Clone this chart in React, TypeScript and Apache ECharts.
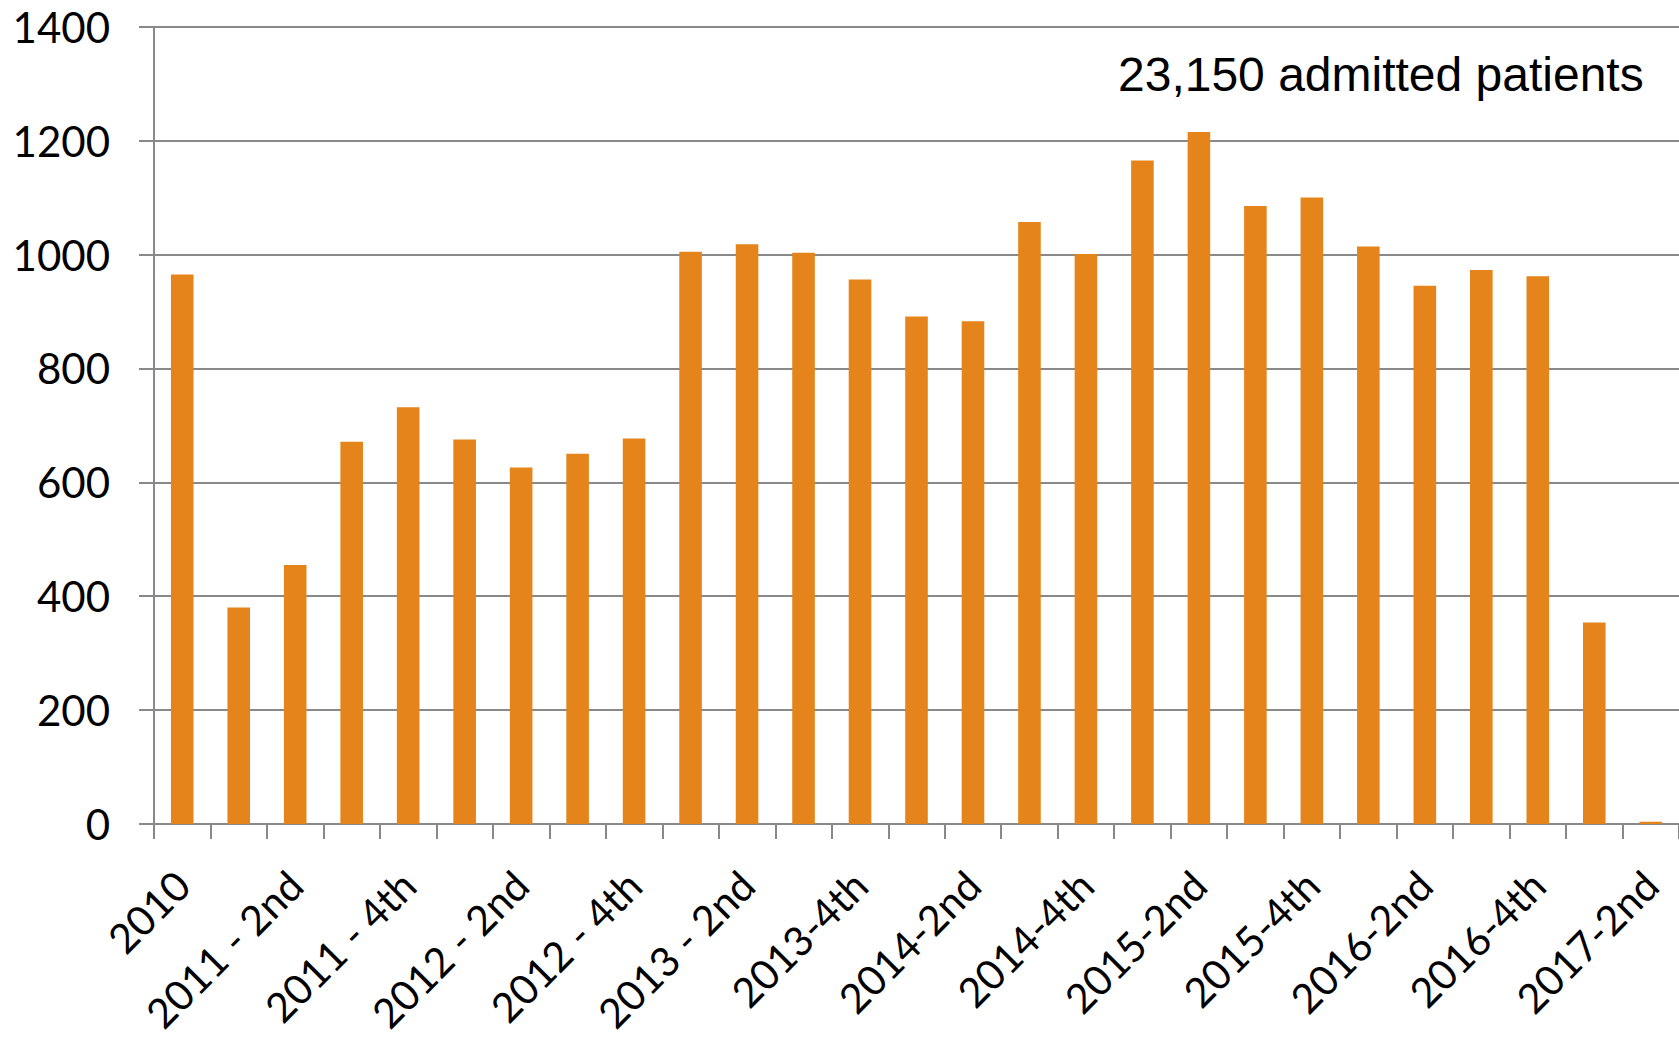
import React, { useEffect, useRef } from "react";
import * as echarts from "echarts";

const categories: string[] = [
  "2010",
  "2011 - 1st", "2011 - 2nd", "2011 - 3rd", "2011 - 4th",
  "2012 - 1st", "2012 - 2nd", "2012 - 3rd", "2012 - 4th",
  "2013 - 1st", "2013 - 2nd", "2013-3rd", "2013-4th",
  "2014-1st", "2014-2nd", "2014-3rd", "2014-4th",
  "2015-1st", "2015-2nd", "2015-3rd", "2015-4th",
  "2016-1st", "2016-2nd", "2016-3rd", "2016-4th",
  "2017-1st", "2017-2nd",
];

const admitted: number[] = [
  965,
  380, 455, 671, 732,
  675, 626, 650, 677,
  1005, 1018, 1003, 956,
  891, 883, 1057, 1001,
  1165, 1215, 1085, 1100,
  1014, 945, 973, 962,
  354, 4,
];

const yTicks = { min: 0, max: 1400, interval: 200 };
const annotation = "23,150 admitted patients";

const GRAY = "#898989";
const ORANGE = "#E5841A";
const LABEL_FONT = "Lato, 'Noto Sans', sans-serif";

export default function App() {
  const ref = useRef<HTMLDivElement>(null);

  useEffect(() => {
    if (!ref.current) return;
    const chart = echarts.init(ref.current, undefined, { renderer: "svg" });
    chart.setOption({
      animation: false,
      backgroundColor: "#ffffff",
      grid: { left: 154, top: 26.7, width: 1525.5, height: 797.3, containLabel: false },
      xAxis: {
        type: "category",
        data: categories,
        boundaryGap: true,
        axisLine: { show: true, lineStyle: { color: GRAY, width: 2 } },
        axisTick: { show: true, interval: 0, length: 15, alignWithLabel: false, lineStyle: { color: GRAY, width: 2 } },
        axisLabel: {
          interval: 1,
          rotate: 45,
          margin: 54,
          color: "#000000",
          fontSize: 41,
          fontFamily: LABEL_FONT,
        },
        splitLine: { show: false },
      },
      yAxis: {
        type: "value",
        min: yTicks.min,
        max: yTicks.max,
        interval: yTicks.interval,
        axisLine: { show: true, lineStyle: { color: GRAY, width: 2 } },
        axisTick: { show: true, length: 15, lineStyle: { color: GRAY, width: 2 } },
        axisLabel: {
          margin: 44,
          color: "#000000",
          fontSize: 42,
          fontFamily: LABEL_FONT,
          formatter: (v: number) => String(v),
        },
        splitLine: { show: true, lineStyle: { color: GRAY, width: 2 } },
      },
      series: [
        {
          type: "bar",
          data: admitted,
          barCategoryGap: "60%",
          itemStyle: { color: ORANGE },
        },
      ],
      graphic: [
        {
          type: "text",
          left: 1118,
          top: 50,
          style: {
            text: annotation,
            fill: "#000000",
            font: "48px 'Liberation Sans', Arial, sans-serif",
          },
        },
      ],
    });
    return () => chart.dispose();
  }, []);

  return (
    <div
      ref={ref}
      style={{ position: "absolute", left: 0, top: 0, width: 1679, height: 1037 }}
    />
  );
}
